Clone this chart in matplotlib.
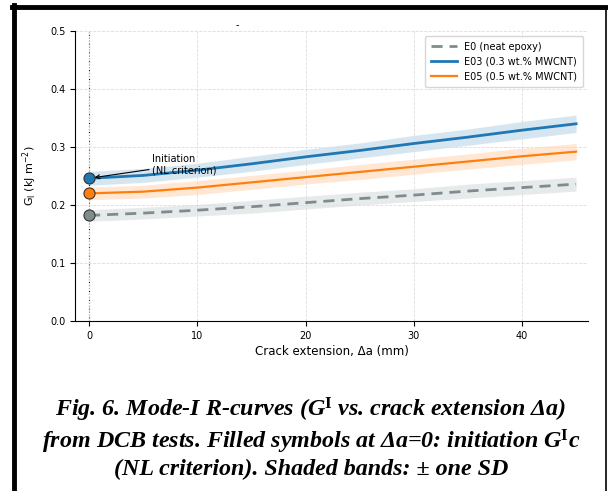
import matplotlib
matplotlib.use("Agg")
import matplotlib.pyplot as plt
from matplotlib.lines import Line2D
from matplotlib.font_manager import FontProperties

plt.rcParams['mathtext.fontset'] = 'dejavusans'
plt.rcParams['mathtext.bf'] = 'Liberation Serif:bold'
plt.rcParams['mathtext.rm'] = 'Liberation Serif:bold'
plt.rcParams['mathtext.it'] = 'Liberation Serif:bold:italic'

# ---- data ----
delta_a = [0, 5, 10, 15, 20, 25, 30, 35, 40, 45]
g_e0 = [0.182, 0.186, 0.191, 0.197, 0.204, 0.211, 0.217, 0.224, 0.230, 0.236]
g_e03 = [0.246, 0.251, 0.260, 0.271, 0.283, 0.294, 0.306, 0.317, 0.329, 0.340]
g_e05 = [0.220, 0.223, 0.230, 0.239, 0.248, 0.257, 0.266, 0.275, 0.284, 0.292]
sd_e0 = [0.010, 0.010, 0.010, 0.011, 0.011, 0.011, 0.011, 0.012, 0.012, 0.012]
sd_e03 = [0.012, 0.012, 0.012, 0.013, 0.013, 0.013, 0.014, 0.014, 0.015, 0.015]
sd_e05 = [0.011, 0.011, 0.012, 0.012, 0.012, 0.013, 0.013, 0.013, 0.014, 0.014]
labels = ["E0 (neat epoxy)", "E03 (0.3 wt.% MWCNT)", "E05 (0.5 wt.% MWCNT)"]
x_ticks = [0, 10, 20, 30, 40]
y_ticks = [0.0, 0.1, 0.2, 0.3, 0.4, 0.5]

c_e0 = '#7f8c8d'
c_e03 = '#1f77b4'
c_e05 = '#ff7f0e'

fig = plt.figure(figsize=(6.08, 4.91), dpi=100)
ax = fig.add_axes([75/608, 1-321/491, (588-75)/608, (321-31)/491])

def band(y, s, sign):
    return [a + sign*b for a, b in zip(y, s)]

ax.fill_between(delta_a, band(g_e0, sd_e0, -1), band(g_e0, sd_e0, 1), color=c_e0, alpha=0.18, lw=0)
ax.fill_between(delta_a, band(g_e03, sd_e03, -1), band(g_e03, sd_e03, 1), color=c_e03, alpha=0.18, lw=0)
ax.fill_between(delta_a, band(g_e05, sd_e05, -1), band(g_e05, sd_e05, 1), color=c_e05, alpha=0.18, lw=0)

ax.plot(delta_a, g_e0, color=c_e0, lw=2, ls=(0, (4, 2.5)), label=labels[0])
ax.plot(delta_a, g_e03, color=c_e03, lw=2, label=labels[1])
ax.plot(delta_a, g_e05, color=c_e05, lw=1.6, label=labels[2])

ax.plot([delta_a[0]], [g_e0[0]], 'o', ms=8, mfc=c_e0, mec='#333333', mew=0.8, zorder=5)
ax.plot([delta_a[0]], [g_e03[0]], 'o', ms=8, mfc=c_e03, mec='#333333', mew=0.8, zorder=5)
ax.plot([delta_a[0]], [g_e05[0]], 'o', ms=8, mfc=c_e05, mec='#333333', mew=0.8, zorder=5)

ax.axvline(0, color='black', ls=':', lw=0.8, zorder=1)

ax.annotate("Initiation\n(NL criterion)", xy=(delta_a[0], g_e03[0]), xytext=(5.8, 0.27),
            fontsize=7, ha='left', va='center',
            arrowprops=dict(arrowstyle='->', color='black', lw=0.8, shrinkA=0, shrinkB=4))

ax.set_xlim(-1.3, 46.1)
ax.set_ylim(0, 0.5)
ax.set_xticks(x_ticks)
ax.set_yticks(y_ticks)
ax.tick_params(labelsize=7, length=3.5, width=0.8)
ax.grid(True, ls='--', color='#dddddd', lw=0.6)
ax.spines['top'].set_visible(False)
ax.spines['right'].set_visible(False)
ax.set_xlabel("Crack extension, Δa (mm)", fontsize=8.5, labelpad=3)
ax.set_ylabel(r"G$_\mathregular{I}$ (kJ m$^{-2}$)", fontsize=8, labelpad=8)

leg = ax.legend(loc='upper right', fontsize=7, frameon=True, borderpad=0.6,
                handlelength=2.6, bbox_to_anchor=(1.0, 1.0))
leg.get_frame().set_edgecolor('#cccccc')

fig.text(237/608, 1-25/491, "-", fontsize=7, ha='center', va='center')

fp = FontProperties(family='Liberation Serif', weight='bold', style='italic', size=17.3,
                    math_fontfamily='custom')
caption = ("Fig. 6. Mode-I R-curves (G$^{\\mathbf{I}}$ vs. crack extension Δa)\n"
           "from DCB tests. Filled symbols at Δa=0: initiation G$^{\\mathbf{I}}$c\n"
           "(NL criterion). Shaded bands: ± one SD")
fig.text(311/608, 1-438/491, caption, fontproperties=fp, ha='center', va='center',
         multialignment='center', linespacing=1.17)

# frame
fig.add_artist(Line2D([14/608, 14/608], [0, 1-5/491], color='black', lw=3.5, transform=fig.transFigure))
fig.add_artist(Line2D([12/608, 606/608], [1-7/491, 1-7/491], color='black', lw=3.5, transform=fig.transFigure))
fig.add_artist(Line2D([605.5/608, 605.5/608], [0, 1-7/491], color='black', lw=1.2, transform=fig.transFigure))

fig.savefig("out.png", dpi=100)
